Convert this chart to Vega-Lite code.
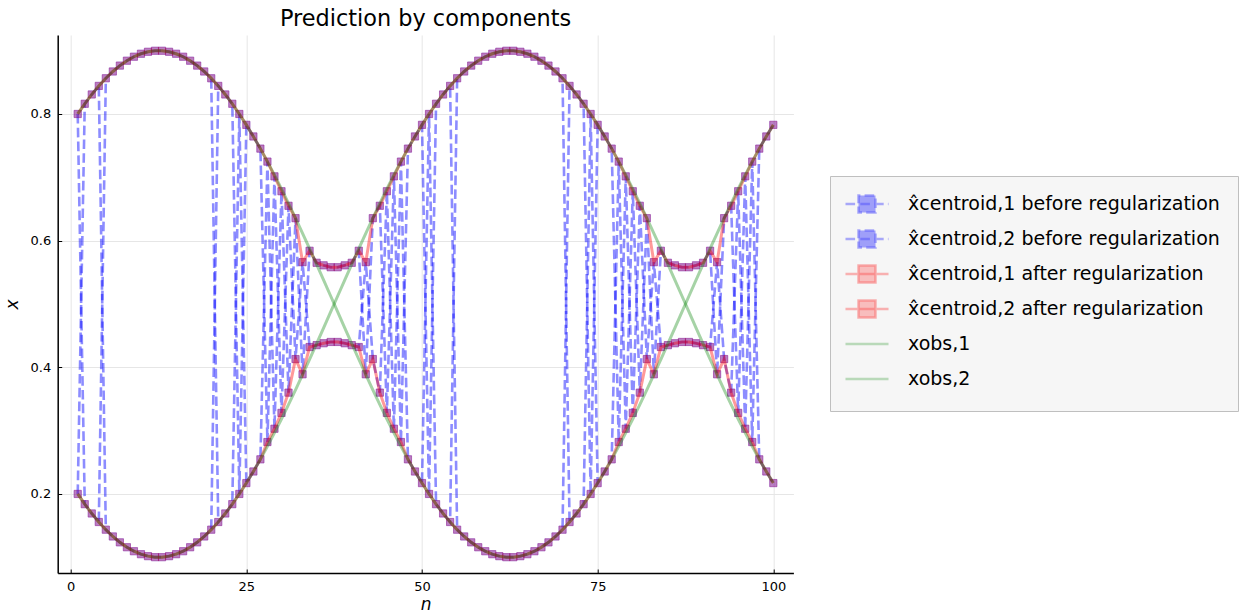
{
  "$schema": "https://vega.github.io/schema/vega-lite/v6.json",
  "width": 735.7,
  "height": 538,
  "autosize": {"type": "none"},
  "padding": {"left": 57.7, "top": 35, "right": 445.6, "bottom": 39},
  "background": "white",
  "config": {"view": {"stroke": null}, "font": "DejaVu Sans"},
  "title": {"text": "Prediction by components", "fontSize": 22.4, "fontWeight": "normal", "font": "DejaVu Sans", "color": "black", "offset": 5, "anchor": "middle"},
  "data": {"values": [
    {"n":1,"b1":0.8,"b2":0.2,"a1":0.8,"a2":0.2,"o1":0.8,"o2":0.2},
    {"n":2,"b1":0.1839,"b2":0.8161,"a1":0.8161,"a2":0.1839,"o1":0.8161,"o2":0.1839},
    {"n":3,"b1":0.1692,"b2":0.8308,"a1":0.8308,"a2":0.1692,"o1":0.8308,"o2":0.1692},
    {"n":4,"b1":0.1557,"b2":0.8443,"a1":0.8443,"a2":0.1557,"o1":0.8443,"o2":0.1557},
    {"n":5,"b1":0.8564,"b2":0.1436,"a1":0.8564,"a2":0.1436,"o1":0.8564,"o2":0.1436},
    {"n":6,"b1":0.8671,"b2":0.1329,"a1":0.8671,"a2":0.1329,"o1":0.8671,"o2":0.1329},
    {"n":7,"b1":0.8764,"b2":0.1236,"a1":0.8764,"a2":0.1236,"o1":0.8764,"o2":0.1236},
    {"n":8,"b1":0.8841,"b2":0.1159,"a1":0.8841,"a2":0.1159,"o1":0.8841,"o2":0.1159},
    {"n":9,"b1":0.8904,"b2":0.1096,"a1":0.8904,"a2":0.1096,"o1":0.8904,"o2":0.1096},
    {"n":10,"b1":0.8951,"b2":0.1049,"a1":0.8951,"a2":0.1049,"o1":0.8951,"o2":0.1049},
    {"n":11,"b1":0.8982,"b2":0.1018,"a1":0.8982,"a2":0.1018,"o1":0.8982,"o2":0.1018},
    {"n":12,"b1":0.8998,"b2":0.1002,"a1":0.8998,"a2":0.1002,"o1":0.8998,"o2":0.1002},
    {"n":13,"b1":0.8998,"b2":0.1002,"a1":0.8998,"a2":0.1002,"o1":0.8998,"o2":0.1002},
    {"n":14,"b1":0.8982,"b2":0.1018,"a1":0.8982,"a2":0.1018,"o1":0.8982,"o2":0.1018},
    {"n":15,"b1":0.8951,"b2":0.1049,"a1":0.8951,"a2":0.1049,"o1":0.8951,"o2":0.1049},
    {"n":16,"b1":0.8904,"b2":0.1096,"a1":0.8904,"a2":0.1096,"o1":0.8904,"o2":0.1096},
    {"n":17,"b1":0.8841,"b2":0.1159,"a1":0.8841,"a2":0.1159,"o1":0.8841,"o2":0.1159},
    {"n":18,"b1":0.8764,"b2":0.1236,"a1":0.8764,"a2":0.1236,"o1":0.8764,"o2":0.1236},
    {"n":19,"b1":0.8671,"b2":0.1329,"a1":0.8671,"a2":0.1329,"o1":0.8671,"o2":0.1329},
    {"n":20,"b1":0.8564,"b2":0.1436,"a1":0.8564,"a2":0.1436,"o1":0.8564,"o2":0.1436},
    {"n":21,"b1":0.1557,"b2":0.8443,"a1":0.8443,"a2":0.1557,"o1":0.8443,"o2":0.1557},
    {"n":22,"b1":0.1692,"b2":0.8308,"a1":0.8308,"a2":0.1692,"o1":0.8308,"o2":0.1692},
    {"n":23,"b1":0.1839,"b2":0.8161,"a1":0.8161,"a2":0.1839,"o1":0.8161,"o2":0.1839},
    {"n":24,"b1":0.8,"b2":0.2,"a1":0.8,"a2":0.2,"o1":0.8,"o2":0.2},
    {"n":25,"b1":0.2172,"b2":0.7828,"a1":0.7828,"a2":0.2172,"o1":0.7828,"o2":0.2172},
    {"n":26,"b1":0.2355,"b2":0.7645,"a1":0.7645,"a2":0.2355,"o1":0.7645,"o2":0.2355},
    {"n":27,"b1":0.2547,"b2":0.7453,"a1":0.7453,"a2":0.2547,"o1":0.7453,"o2":0.2547},
    {"n":28,"b1":0.7248,"b2":0.282,"a1":0.7248,"a2":0.282,"o1":0.7248,"o2":0.2752},
    {"n":29,"b1":0.303,"b2":0.7015,"a1":0.7015,"a2":0.303,"o1":0.7036,"o2":0.2964},
    {"n":30,"b1":0.678,"b2":0.328,"a1":0.678,"a2":0.328,"o1":0.6816,"o2":0.3184},
    {"n":31,"b1":0.36,"b2":0.655,"a1":0.655,"a2":0.36,"o1":0.6589,"o2":0.3411},
    {"n":32,"b1":0.6355,"b2":0.413,"a1":0.6355,"a2":0.413,"o1":0.6355,"o2":0.3645},
    {"n":33,"b1":0.389,"b2":0.566,"a1":0.566,"a2":0.389,"o1":0.6116,"o2":0.3884},
    {"n":34,"b1":0.584,"b2":0.432,"a1":0.584,"a2":0.432,"o1":0.5873,"o2":0.4127},
    {"n":35,"b1":0.565,"b2":0.435,"a1":0.565,"a2":0.435,"o1":0.5626,"o2":0.4374},
    {"n":36,"b1":0.561,"b2":0.438,"a1":0.561,"a2":0.438,"o1":0.5376,"o2":0.4624},
    {"n":37,"b1":0.558,"b2":0.44,"a1":0.558,"a2":0.44,"o1":0.5126,"o2":0.4874},
    {"n":38,"b1":0.558,"b2":0.44,"a1":0.558,"a2":0.44,"o1":0.4874,"o2":0.5126},
    {"n":39,"b1":0.561,"b2":0.438,"a1":0.561,"a2":0.438,"o1":0.4624,"o2":0.5376},
    {"n":40,"b1":0.565,"b2":0.435,"a1":0.565,"a2":0.435,"o1":0.4374,"o2":0.5626},
    {"n":41,"b1":0.584,"b2":0.432,"a1":0.584,"a2":0.432,"o1":0.4127,"o2":0.5873},
    {"n":42,"b1":0.389,"b2":0.566,"a1":0.566,"a2":0.389,"o1":0.3884,"o2":0.6116},
    {"n":43,"b1":0.6355,"b2":0.413,"a1":0.6355,"a2":0.413,"o1":0.3645,"o2":0.6355},
    {"n":44,"b1":0.655,"b2":0.36,"a1":0.655,"a2":0.36,"o1":0.3411,"o2":0.6589},
    {"n":45,"b1":0.328,"b2":0.678,"a1":0.678,"a2":0.328,"o1":0.3184,"o2":0.6816},
    {"n":46,"b1":0.7015,"b2":0.303,"a1":0.7015,"a2":0.303,"o1":0.2964,"o2":0.7036},
    {"n":47,"b1":0.282,"b2":0.7248,"a1":0.7248,"a2":0.282,"o1":0.2752,"o2":0.7248},
    {"n":48,"b1":0.7453,"b2":0.2547,"a1":0.7453,"a2":0.2547,"o1":0.2547,"o2":0.7453},
    {"n":49,"b1":0.7645,"b2":0.2355,"a1":0.7645,"a2":0.2355,"o1":0.2355,"o2":0.7645},
    {"n":50,"b1":0.7828,"b2":0.2172,"a1":0.7828,"a2":0.2172,"o1":0.2172,"o2":0.7828},
    {"n":51,"b1":0.2,"b2":0.8,"a1":0.8,"a2":0.2,"o1":0.2,"o2":0.8},
    {"n":52,"b1":0.8161,"b2":0.1839,"a1":0.8161,"a2":0.1839,"o1":0.1839,"o2":0.8161},
    {"n":53,"b1":0.8308,"b2":0.1692,"a1":0.8308,"a2":0.1692,"o1":0.1692,"o2":0.8308},
    {"n":54,"b1":0.8443,"b2":0.1557,"a1":0.8443,"a2":0.1557,"o1":0.1557,"o2":0.8443},
    {"n":55,"b1":0.1436,"b2":0.8564,"a1":0.8564,"a2":0.1436,"o1":0.1436,"o2":0.8564},
    {"n":56,"b1":0.1329,"b2":0.8671,"a1":0.8671,"a2":0.1329,"o1":0.1329,"o2":0.8671},
    {"n":57,"b1":0.1236,"b2":0.8764,"a1":0.8764,"a2":0.1236,"o1":0.1236,"o2":0.8764},
    {"n":58,"b1":0.1159,"b2":0.8841,"a1":0.8841,"a2":0.1159,"o1":0.1159,"o2":0.8841},
    {"n":59,"b1":0.1096,"b2":0.8904,"a1":0.8904,"a2":0.1096,"o1":0.1096,"o2":0.8904},
    {"n":60,"b1":0.1049,"b2":0.8951,"a1":0.8951,"a2":0.1049,"o1":0.1049,"o2":0.8951},
    {"n":61,"b1":0.1018,"b2":0.8982,"a1":0.8982,"a2":0.1018,"o1":0.1018,"o2":0.8982},
    {"n":62,"b1":0.1002,"b2":0.8998,"a1":0.8998,"a2":0.1002,"o1":0.1002,"o2":0.8998},
    {"n":63,"b1":0.1002,"b2":0.8998,"a1":0.8998,"a2":0.1002,"o1":0.1002,"o2":0.8998},
    {"n":64,"b1":0.1018,"b2":0.8982,"a1":0.8982,"a2":0.1018,"o1":0.1018,"o2":0.8982},
    {"n":65,"b1":0.1049,"b2":0.8951,"a1":0.8951,"a2":0.1049,"o1":0.1049,"o2":0.8951},
    {"n":66,"b1":0.1096,"b2":0.8904,"a1":0.8904,"a2":0.1096,"o1":0.1096,"o2":0.8904},
    {"n":67,"b1":0.1159,"b2":0.8841,"a1":0.8841,"a2":0.1159,"o1":0.1159,"o2":0.8841},
    {"n":68,"b1":0.1236,"b2":0.8764,"a1":0.8764,"a2":0.1236,"o1":0.1236,"o2":0.8764},
    {"n":69,"b1":0.1329,"b2":0.8671,"a1":0.8671,"a2":0.1329,"o1":0.1329,"o2":0.8671},
    {"n":70,"b1":0.1436,"b2":0.8564,"a1":0.8564,"a2":0.1436,"o1":0.1436,"o2":0.8564},
    {"n":71,"b1":0.8443,"b2":0.1557,"a1":0.8443,"a2":0.1557,"o1":0.1557,"o2":0.8443},
    {"n":72,"b1":0.8308,"b2":0.1692,"a1":0.8308,"a2":0.1692,"o1":0.1692,"o2":0.8308},
    {"n":73,"b1":0.8161,"b2":0.1839,"a1":0.8161,"a2":0.1839,"o1":0.1839,"o2":0.8161},
    {"n":74,"b1":0.2,"b2":0.8,"a1":0.8,"a2":0.2,"o1":0.2,"o2":0.8},
    {"n":75,"b1":0.7828,"b2":0.2172,"a1":0.7828,"a2":0.2172,"o1":0.2172,"o2":0.7828},
    {"n":76,"b1":0.7645,"b2":0.2355,"a1":0.7645,"a2":0.2355,"o1":0.2355,"o2":0.7645},
    {"n":77,"b1":0.7453,"b2":0.2547,"a1":0.7453,"a2":0.2547,"o1":0.2547,"o2":0.7453},
    {"n":78,"b1":0.282,"b2":0.7248,"a1":0.7248,"a2":0.282,"o1":0.2752,"o2":0.7248},
    {"n":79,"b1":0.7015,"b2":0.303,"a1":0.7015,"a2":0.303,"o1":0.2964,"o2":0.7036},
    {"n":80,"b1":0.328,"b2":0.678,"a1":0.678,"a2":0.328,"o1":0.3184,"o2":0.6816},
    {"n":81,"b1":0.655,"b2":0.36,"a1":0.655,"a2":0.36,"o1":0.3411,"o2":0.6589},
    {"n":82,"b1":0.413,"b2":0.6355,"a1":0.6355,"a2":0.413,"o1":0.3645,"o2":0.6355},
    {"n":83,"b1":0.566,"b2":0.389,"a1":0.566,"a2":0.389,"o1":0.3884,"o2":0.6116},
    {"n":84,"b1":0.432,"b2":0.584,"a1":0.584,"a2":0.432,"o1":0.4127,"o2":0.5873},
    {"n":85,"b1":0.435,"b2":0.565,"a1":0.565,"a2":0.435,"o1":0.4374,"o2":0.5626},
    {"n":86,"b1":0.438,"b2":0.561,"a1":0.561,"a2":0.438,"o1":0.4624,"o2":0.5376},
    {"n":87,"b1":0.44,"b2":0.558,"a1":0.558,"a2":0.44,"o1":0.4874,"o2":0.5126},
    {"n":88,"b1":0.44,"b2":0.558,"a1":0.558,"a2":0.44,"o1":0.5126,"o2":0.4874},
    {"n":89,"b1":0.438,"b2":0.561,"a1":0.561,"a2":0.438,"o1":0.5376,"o2":0.4624},
    {"n":90,"b1":0.435,"b2":0.565,"a1":0.565,"a2":0.435,"o1":0.5626,"o2":0.4374},
    {"n":91,"b1":0.432,"b2":0.584,"a1":0.584,"a2":0.432,"o1":0.5873,"o2":0.4127},
    {"n":92,"b1":0.566,"b2":0.389,"a1":0.566,"a2":0.389,"o1":0.6116,"o2":0.3884},
    {"n":93,"b1":0.413,"b2":0.6355,"a1":0.6355,"a2":0.413,"o1":0.6355,"o2":0.3645},
    {"n":94,"b1":0.36,"b2":0.655,"a1":0.655,"a2":0.36,"o1":0.6589,"o2":0.3411},
    {"n":95,"b1":0.678,"b2":0.328,"a1":0.678,"a2":0.328,"o1":0.6816,"o2":0.3184},
    {"n":96,"b1":0.303,"b2":0.7015,"a1":0.7015,"a2":0.303,"o1":0.7036,"o2":0.2964},
    {"n":97,"b1":0.7248,"b2":0.282,"a1":0.7248,"a2":0.282,"o1":0.7248,"o2":0.2752},
    {"n":98,"b1":0.2547,"b2":0.7453,"a1":0.7453,"a2":0.2547,"o1":0.7453,"o2":0.2547},
    {"n":99,"b1":0.2355,"b2":0.7645,"a1":0.7645,"a2":0.2355,"o1":0.7645,"o2":0.2355},
    {"n":100,"b1":0.2172,"b2":0.7828,"a1":0.7828,"a2":0.2172,"o1":0.7828,"o2":0.2172}
  ]},
  "transform": [{"fold": ["b1", "b2", "a1", "a2", "o1", "o2"], "as": ["series", "v"]}],
  "encoding": {
    "x": {
      "field": "n", "type": "quantitative",
      "scale": {"domain": [-1.85, 102.86], "nice": false, "zero": false},
      "axis": {
        "values": [0, 25, 50, 75, 100], "title": "n", "titleFontStyle": "italic", "titleFontSize": 17,
        "titleFontWeight": "normal", "titleColor": "black", "titlePadding": 3, "titleFont": "DejaVu Sans",
        "labelFontSize": 13, "labelColor": "black", "labelPadding": 11, "labelFont": "DejaVu Sans",
        "tickSize": -4, "tickColor": "black", "tickWidth": 1, "domainColor": "black", "domainWidth": 1.5,
        "grid": true, "gridColor": "#e6e6e6", "gridWidth": 1, "labelFlush": false
      }
    },
    "y": {
      "field": "v", "type": "quantitative",
      "scale": {"domain": [0.0752, 0.9247], "nice": false, "zero": false},
      "axis": {
        "values": [0.2, 0.4, 0.6, 0.8], "format": ".1f", "title": "x", "titleFontStyle": "italic", "titleFontSize": 17,
        "titleFontWeight": "normal", "titleColor": "black", "titlePadding": 9, "titleFont": "DejaVu Sans",
        "labelFontSize": 13, "labelColor": "black", "labelPadding": 11, "labelFont": "DejaVu Sans",
        "tickSize": -4, "tickColor": "black", "tickWidth": 1, "domainColor": "black", "domainWidth": 1.5,
        "grid": true, "gridColor": "#e6e6e6", "gridWidth": 1, "labelFlush": false
      }
    }
  },
  "layer": [
    {
      "transform": [{"filter": {"field": "series", "oneOf": ["b1", "b2"]}}],
      "mark": {"type": "line", "strokeWidth": 2.6},
      "encoding": {
        "stroke": {
          "field": "series", "type": "nominal",
          "scale": {"domain": ["b1", "b2", "a1", "a2", "o1", "o2"], "range": ["rgba(0,0,255,0.45)", "rgba(0,0,255,0.45)", "rgba(255,0,0,0.4)", "rgba(255,0,0,0.4)", "rgba(0,128,0,0.35)", "rgba(0,128,0,0.35)"]},
          "legend": {
            "orient": "none", "legendX": 772.3, "legendY": 141, "title": null,
            "labelExpr": "datum.label === 'b1' ? 'x\u0302centroid,1 before regularization' : datum.label === 'b2' ? 'x\u0302centroid,2 before regularization' : datum.label === 'a1' ? 'x\u0302centroid,1 after regularization' : datum.label === 'a2' ? 'x\u0302centroid,2 after regularization' : datum.label === 'o1' ? 'xobs,1' : 'xobs,2'",
            "labelFont": "DejaVu Sans", "labelFontSize": 19, "labelColor": "black", "labelLimit": 0,
            "padding": 18, "fillColor": "#f6f6f6", "strokeColor": "#bfbfbf", "cornerRadius": 0,
            "symbolType": "M-2.53,0H-1V-1H1V1H-1V0H2.53",
            "symbolSize": 289, "symbolOffset": 9, "labelOffset": 31, "rowPadding": 7, "symbolStrokeWidth": 2.5
          }
        },
        "strokeDash": {
          "field": "series", "type": "nominal",
          "scale": {"domain": ["b1", "b2", "a1", "a2", "o1", "o2"], "range": [[9.6, 4.2], [9.6, 4.2], [1, 0], [1, 0], [13, 68, 40, 10], [13, 68, 40, 10]]},
          "legend": {
            "orient": "none", "legendX": 772.3, "legendY": 141, "title": null,
            "labelExpr": "datum.label === 'b1' ? 'x\u0302centroid,1 before regularization' : datum.label === 'b2' ? 'x\u0302centroid,2 before regularization' : datum.label === 'a1' ? 'x\u0302centroid,1 after regularization' : datum.label === 'a2' ? 'x\u0302centroid,2 after regularization' : datum.label === 'o1' ? 'xobs,1' : 'xobs,2'",
            "labelFont": "DejaVu Sans", "labelFontSize": 19, "labelColor": "black", "labelLimit": 0,
            "padding": 18, "fillColor": "#f6f6f6", "strokeColor": "#bfbfbf", "cornerRadius": 0,
            "symbolType": "M-2.53,0H-1V-1H1V1H-1V0H2.53",
            "symbolSize": 289, "symbolOffset": 9, "labelOffset": 31, "rowPadding": 7, "symbolStrokeWidth": 2.5
          }
        }
      }
    },
    {
      "transform": [{"filter": {"field": "series", "oneOf": ["b1", "b2"]}}],
      "mark": {"type": "point", "shape": "square", "filled": true, "size": 52, "stroke": "#0000ff", "strokeWidth": 1, "strokeOpacity": 0.5},
      "encoding": {
        "fill": {
          "field": "series", "type": "nominal",
          "scale": {"domain": ["b1", "b2", "a1", "a2", "o1", "o2"], "range": ["rgba(0,0,255,0.5)", "rgba(0,0,255,0.5)", "rgba(255,0,0,0.33)", "rgba(255,0,0,0.33)", "transparent", "transparent"]},
          "legend": {
            "orient": "none", "legendX": 772.3, "legendY": 141, "title": null,
            "labelExpr": "datum.label === 'b1' ? 'x\u0302centroid,1 before regularization' : datum.label === 'b2' ? 'x\u0302centroid,2 before regularization' : datum.label === 'a1' ? 'x\u0302centroid,1 after regularization' : datum.label === 'a2' ? 'x\u0302centroid,2 after regularization' : datum.label === 'o1' ? 'xobs,1' : 'xobs,2'",
            "labelFont": "DejaVu Sans", "labelFontSize": 19, "labelColor": "black", "labelLimit": 0,
            "padding": 18, "fillColor": "#f6f6f6", "strokeColor": "#bfbfbf", "cornerRadius": 0,
            "symbolType": "M-2.53,0H-1V-1H1V1H-1V0H2.53",
            "symbolSize": 289, "symbolOffset": 9, "labelOffset": 31, "rowPadding": 7, "symbolStrokeWidth": 2.5
          }
        }
      }
    },
    {
      "transform": [{"filter": {"field": "series", "oneOf": ["a1", "a2"]}}],
      "mark": {"type": "line", "strokeWidth": 3},
      "encoding": {
        "stroke": {
          "field": "series", "type": "nominal",
          "scale": {"domain": ["b1", "b2", "a1", "a2", "o1", "o2"], "range": ["rgba(0,0,255,0.45)", "rgba(0,0,255,0.45)", "rgba(255,0,0,0.4)", "rgba(255,0,0,0.4)", "rgba(0,128,0,0.35)", "rgba(0,128,0,0.35)"]}
        }
      }
    },
    {
      "transform": [{"filter": {"field": "series", "oneOf": ["a1", "a2"]}}],
      "mark": {"type": "point", "shape": "square", "filled": true, "size": 52, "stroke": "#ff0000", "strokeWidth": 1, "strokeOpacity": 0.3},
      "encoding": {
        "fill": {
          "field": "series", "type": "nominal",
          "scale": {"domain": ["b1", "b2", "a1", "a2", "o1", "o2"], "range": ["rgba(0,0,255,0.5)", "rgba(0,0,255,0.5)", "rgba(255,0,0,0.33)", "rgba(255,0,0,0.33)", "transparent", "transparent"]}
        }
      }
    },
    {
      "transform": [{"filter": {"field": "series", "oneOf": ["o1", "o2"]}}],
      "mark": {"type": "line", "strokeWidth": 3},
      "encoding": {
        "stroke": {
          "field": "series", "type": "nominal",
          "scale": {"domain": ["b1", "b2", "a1", "a2", "o1", "o2"], "range": ["rgba(0,0,255,0.45)", "rgba(0,0,255,0.45)", "rgba(255,0,0,0.4)", "rgba(255,0,0,0.4)", "rgba(0,128,0,0.35)", "rgba(0,128,0,0.35)"]}
        }
      }
    }
  ]
}
